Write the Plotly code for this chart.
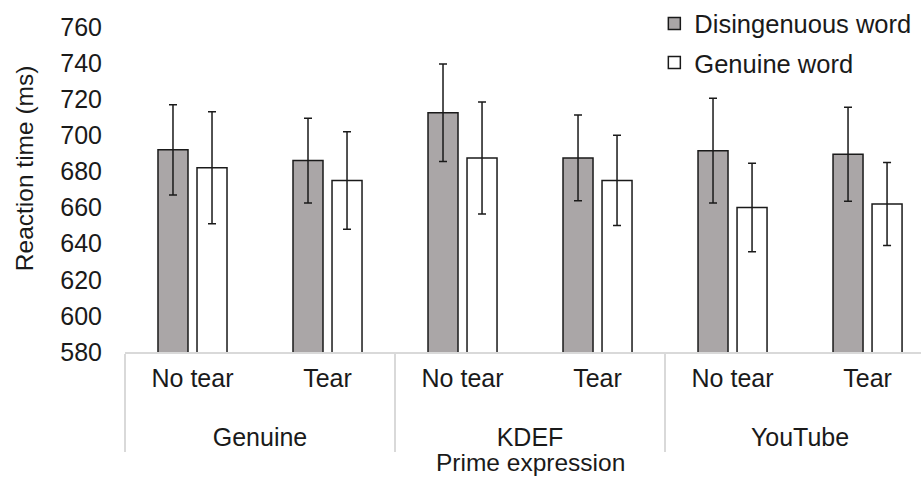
import plotly.graph_objects as go

groups = ["Genuine", "Genuine", "KDEF", "KDEF", "YouTube", "YouTube"]
conditions = ["No tear", "Tear", "No tear", "Tear", "No tear", "Tear"]

disingenuous = [692, 686, 712.5, 687.5, 691.5, 689.5]
disingenuous_err = [25, 23.5, 27, 23.7, 29, 26]
genuine = [682, 675, 687.5, 675, 660, 662]
genuine_err = [31, 27, 31, 25, 24.5, 23]

y_ticks = [580, 600, 620, 640, 660, 680, 700, 720, 740, 760]

FONT = "Arial, 'Liberation Sans', sans-serif"
TXT = "#1a1a1a"

group_labels = ["<br>" + g for g in groups]

fig = go.Figure()
fig.add_trace(go.Bar(
    x=[group_labels, conditions], y=disingenuous, name="Disingenuous word",
    marker=dict(color="#aaa6a7", line=dict(color="#1a1a1a", width=1.5)),
    error_y=dict(type="data", array=disingenuous_err, color="#1a1a1a", thickness=1.5, width=4),
    legendgroup="a",
))
fig.add_trace(go.Bar(
    x=[group_labels, conditions], y=genuine, name="Genuine word",
    marker=dict(color="#ffffff", line=dict(color="#1a1a1a", width=1.5)),
    error_y=dict(type="data", array=genuine_err, color="#1a1a1a", thickness=1.5, width=4),
    legendgroup="b",
))

fig.update_layout(
    width=921, height=480,
    margin=dict(l=125, r=0, t=25, b=128),
    paper_bgcolor="white", plot_bgcolor="white",
    barmode="group", bargap=0.422, bargroupgap=0.231,
    font=dict(family=FONT, size=25, color=TXT),
    showlegend=True,
    legend=dict(x=0.665, y=1.082, xanchor="left", yanchor="top",
                bgcolor="rgba(0,0,0,0)", font=dict(size=25.5, color=TXT),
                traceorder="grouped", tracegroupgap=3),
    xaxis=dict(
        type="multicategory", range=[-0.5, 5.396],
        showline=True, linecolor="#d9d9d9", linewidth=1.5,
        ticks="", showgrid=False, zeroline=False,
        showdividers=True, dividercolor="#d9d9d9", dividerwidth=1.5,
        ticklabelstandoff=3,
        tickfont=dict(size=25, color=TXT),
    ),
    yaxis=dict(
        range=[580, 760], tickvals=y_ticks, ticks="", showgrid=False,
        zeroline=False, showline=False, ticklabelstandoff=22,
        tickfont=dict(size=25, color=TXT),
    ),
    annotations=[
        dict(text="Reaction time (ms)", textangle=-90, xref="paper", yref="paper",
             x=(24 - 125) / 796, y=(352 - 167) / 327, xanchor="center", yanchor="middle",
             showarrow=False, font=dict(size=24.5, color=TXT)),
        dict(text="Prime expression", xref="paper", yref="paper",
             x=(530 - 125) / 796, y=-(463 - 352) / 327, xanchor="center", yanchor="middle",
             showarrow=False, font=dict(size=24.5, color=TXT)),
    ],
)

fig.write_html("out.html")
